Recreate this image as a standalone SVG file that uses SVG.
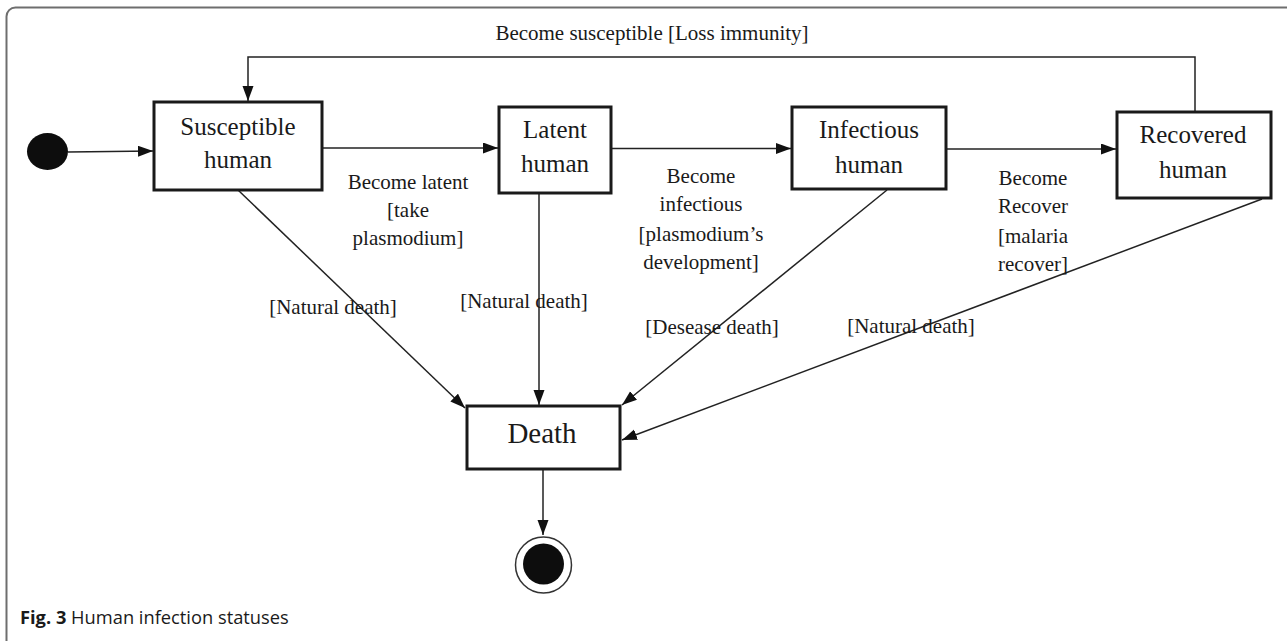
<svg xmlns="http://www.w3.org/2000/svg" width="1287" height="641" viewBox="0 0 1287 641">
<style>
.frame{fill:none;stroke:#6e6e6e;stroke-width:2}
.box{fill:#fff;stroke:#1a1a1a;stroke-width:3}
.nt{font-family:"Liberation Serif","Times New Roman",serif;font-size:25px;fill:#1a1a1a;text-anchor:middle}
.lt{font-family:"Liberation Serif","Times New Roman",serif;font-size:21px;fill:#1a1a1a;text-anchor:middle}
.edge{fill:none;stroke:#222;stroke-width:1.5;marker-end:url(#ah)}
.cap{font-family:"Open Sans","Noto Sans",sans-serif;font-size:18.3px;fill:#1a1a1a}
</style>
<defs>
<marker id="ah" markerUnits="userSpaceOnUse" markerWidth="16" markerHeight="12" refX="15" refY="5.5" orient="auto">
<path d="M0,0 L15,5.5 L0,11 z" fill="#111"/>
</marker>
</defs>
<rect width="1287" height="641" fill="#fff"/>
<rect class="frame" x="6.5" y="7.5" width="1300" height="660" rx="9"/>

<g id="connectors">
<line class="edge" x1="68" y1="152" x2="153" y2="151"/>
<line class="edge" x1="322" y1="148" x2="498" y2="148"/>
<line class="edge" x1="611" y1="148.5" x2="791" y2="148.5"/>
<line class="edge" x1="946" y1="149" x2="1116" y2="149"/>
<polyline class="edge" points="1195,111 1195,57 248,57 248,101"/>
<line class="edge" x1="238" y1="190" x2="465" y2="408"/>
<line class="edge" x1="539" y1="193" x2="539" y2="405"/>
<line class="edge" x1="887" y1="190" x2="622" y2="405"/>
<line class="edge" x1="1262" y1="199" x2="622" y2="440"/>
<line class="edge" x1="543" y1="469" x2="543" y2="535"/>
<text class="lt" x="652" y="40">Become susceptible [Loss immunity]</text>
<text class="lt" x="408" y="189">Become latent</text>
<text class="lt" x="408" y="217">[take</text>
<text class="lt" x="408" y="245">plasmodium]</text>
<text class="lt" x="701" y="183">Become</text>
<text class="lt" x="701" y="211">infectious</text>
<text class="lt" x="701" y="241">[plasmodium’s</text>
<text class="lt" x="701" y="269">development]</text>
<text class="lt" x="1033" y="185">Become</text>
<text class="lt" x="1033" y="213">Recover</text>
<text class="lt" x="1033" y="243">[malaria</text>
<text class="lt" x="1033" y="271">recover]</text>
<text class="lt" x="333" y="314">[Natural death]</text>
<text class="lt" x="524" y="308">[Natural death]</text>
<text class="lt" x="712" y="334">[Desease death]</text>
<text class="lt" x="911" y="333">[Natural death]</text>
</g>

<g id="initial">
<ellipse cx="47.5" cy="151.5" rx="20.5" ry="18.5" fill="#0d0d0d"/>
</g>

<g id="susceptible">
<rect class="box" x="154" y="102" width="168" height="88"/>
<text class="nt" x="238" y="135">Susceptible</text>
<text class="nt" x="238" y="168">human</text>
</g>

<g id="latent">
<rect class="box" x="499" y="107" width="112" height="86"/>
<text class="nt" x="555" y="138">Latent</text>
<text class="nt" x="555" y="172">human</text>
</g>

<g id="infectious">
<rect class="box" x="792" y="107" width="154" height="82"/>
<text class="nt" x="869" y="138">Infectious</text>
<text class="nt" x="869" y="173">human</text>
</g>

<g id="recovered">
<rect class="box" x="1117" y="112" width="154" height="86"/>
<text class="nt" x="1193" y="143">Recovered</text>
<text class="nt" x="1193" y="178">human</text>
</g>

<g id="death">
<rect class="box" x="467" y="406" width="153" height="63"/>
<text class="nt" x="542" y="443" style="font-size:29px">Death</text>
</g>

<g id="final">
<circle cx="543.5" cy="565" r="28" fill="none" stroke="#333" stroke-width="1.5"/>
<circle cx="543.5" cy="564" r="20.5" fill="#0d0d0d"/>
</g>

<text class="cap" x="20" y="624"><tspan font-weight="bold">Fig. 3</tspan> Human infection statuses</text>
</svg>
